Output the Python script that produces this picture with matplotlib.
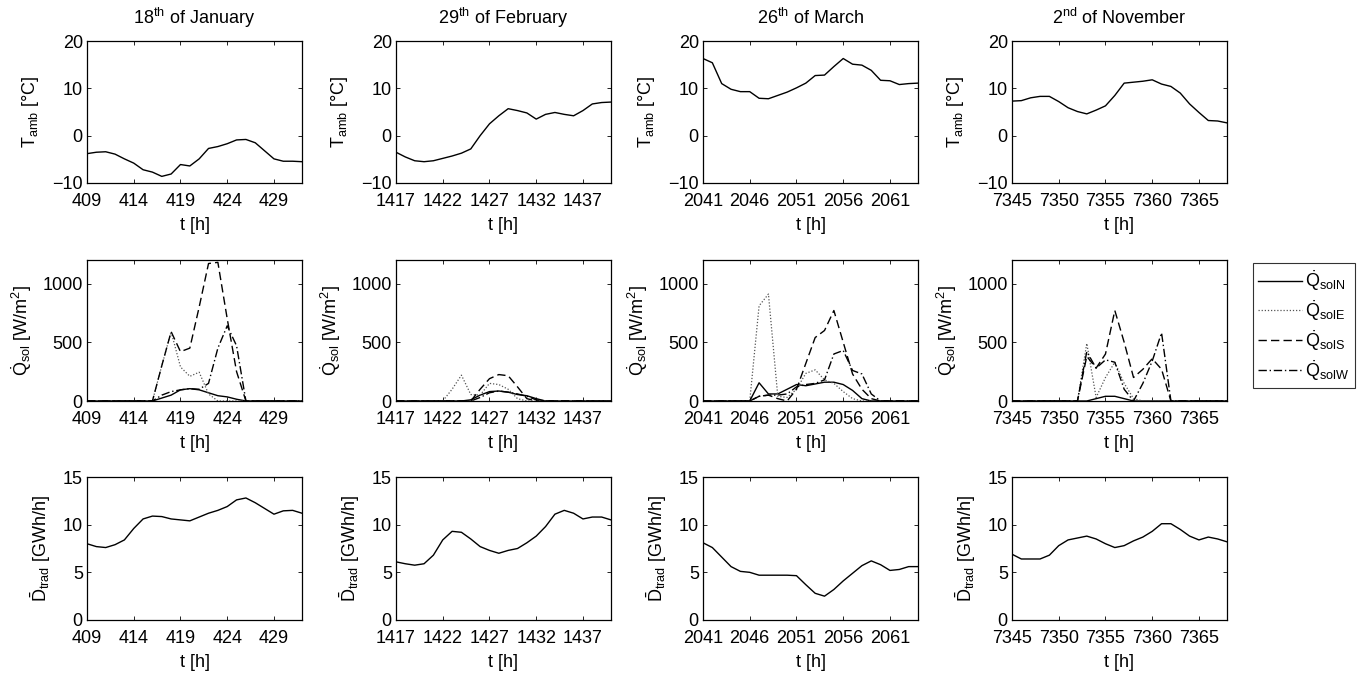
import numpy as np
import matplotlib
matplotlib.use("Agg")
import matplotlib.pyplot as plt

plt.rcParams["font.family"] = ["Liberation Sans", "DejaVu Sans"]
plt.rcParams["mathtext.fontset"] = "custom"
plt.rcParams["mathtext.rm"] = "Liberation Sans"
plt.rcParams["mathtext.it"] = "Liberation Sans:italic"
plt.rcParams["font.size"] = 13

# === DATA ===

titles = [
    "18$^{\\mathrm{th}}$ of January",
    "29$^{\\mathrm{th}}$ of February",
    "26$^{\\mathrm{th}}$ of March",
    "2$^{\\mathrm{nd}}$ of November",
]
start_hours = [409, 1417, 2041, 7345]

# ambient temperature [°C], 24 hourly values per day
t_amb_jan = [-3.8, -3.5, -3.4, -3.9, -4.9, -5.8, -7.2, -7.7, -8.6, -8.1, -6.1, -6.4,
             -4.9, -2.7, -2.3, -1.7, -0.9, -0.8, -1.5, -3.2, -4.9, -5.4, -5.4, -5.5]
t_amb_feb = [-3.5, -4.5, -5.3, -5.5, -5.3, -4.8, -4.3, -3.7, -2.8, 0.0, 2.5, 4.2,
             5.7, 5.3, 4.8, 3.5, 4.5, 4.9, 4.5, 4.2, 5.3, 6.7, 7.0, 7.1]
t_amb_mar = [16.3, 15.4, 11.0, 9.8, 9.3, 9.3, 7.9, 7.8, 8.5, 9.2, 10.1, 11.1,
             12.7, 12.8, 14.6, 16.3, 15.1, 14.9, 13.8, 11.7, 11.6, 10.8, 11.0, 11.1]
t_amb_nov = [7.3, 7.4, 8.0, 8.3, 8.3, 7.2, 5.9, 5.1, 4.6, 5.4, 6.3, 8.5,
             11.1, 11.3, 11.5, 11.8, 10.9, 10.4, 9.0, 6.7, 4.9, 3.2, 3.1, 2.7]

# solar gains [W/m²] per orientation
q_n_jan = [0, 0, 0, 0, 0, 0, 0, 0, 25, 50, 95, 105, 95, 70, 45, 35, 15, 0, 0, 0, 0, 0, 0, 0]
q_e_jan = [0, 0, 0, 0, 0, 0, 0, 0, 300, 590, 290, 210, 245, 60, 0, 0, 0, 0, 0, 0, 0, 0, 0, 0]
q_s_jan = [0, 0, 0, 0, 0, 0, 0, 0, 300, 590, 420, 450, 800, 1170, 1180, 700, 250, 0, 0, 0, 0, 0, 0, 0]
q_w_jan = [0, 0, 0, 0, 0, 0, 0, 0, 50, 80, 95, 105, 100, 150, 450, 640, 470, 0, 0, 0, 0, 0, 0, 0]

q_n_feb = [0, 0, 0, 0, 0, 0, 0, 0, 10, 50, 80, 85, 75, 55, 45, 20, 0, 0, 0, 0, 0, 0, 0, 0]
q_e_feb = [0, 0, 0, 0, 0, 0, 100, 220, 55, 50, 150, 140, 100, 20, 0, 0, 0, 0, 0, 0, 0, 0, 0, 0]
q_s_feb = [0, 0, 0, 0, 0, 0, 0, 0, 0, 100, 190, 225, 215, 120, 20, 0, 0, 0, 0, 0, 0, 0, 0, 0]
q_w_feb = [0, 0, 0, 0, 0, 0, 0, 0, 0, 30, 70, 85, 75, 60, 40, 10, 0, 0, 0, 0, 0, 0, 0, 0]

q_n_mar = [0, 0, 0, 0, 0, 0, 155, 60, 60, 100, 140, 130, 145, 160, 160, 140, 90, 20, 0, 0, 0, 0, 0, 0]
q_e_mar = [0, 0, 0, 0, 0, 0, 810, 910, 40, 30, 100, 235, 265, 180, 150, 80, 20, 0, 0, 0, 0, 0, 0, 0]
q_s_mar = [0, 0, 0, 0, 0, 0, 40, 50, 20, 0, 100, 320, 540, 600, 770, 500, 230, 100, 20, 0, 0, 0, 0, 0]
q_w_mar = [0, 0, 0, 0, 0, 0, 40, 50, 50, 60, 120, 140, 150, 180, 400, 430, 260, 230, 60, 0, 0, 0, 0, 0]

q_n_nov = [0, 0, 0, 0, 0, 0, 0, 0, 0, 20, 40, 40, 20, 0, 0, 0, 0, 0, 0, 0, 0, 0, 0, 0]
q_e_nov = [0, 0, 0, 0, 0, 0, 0, 0, 490, 30, 200, 330, 150, 20, 0, 0, 0, 0, 0, 0, 0, 0, 0, 0]
q_s_nov = [0, 0, 0, 0, 0, 0, 0, 0, 380, 280, 400, 770, 500, 200, 270, 360, 270, 0, 0, 0, 0, 0, 0, 0]
q_w_nov = [0, 0, 0, 0, 0, 0, 0, 0, 420, 280, 350, 330, 100, 0, 150, 340, 580, 0, 0, 0, 0, 0, 0, 0]

# traditional demand [GWh/h]
d_trad_jan = [8.0, 7.7, 7.6, 7.9, 8.4, 9.6, 10.6, 10.9, 10.85, 10.6, 10.5, 10.4,
              10.8, 11.2, 11.5, 11.9, 12.6, 12.8, 12.3, 11.7, 11.1, 11.45, 11.5, 11.2]
d_trad_feb = [6.1, 5.9, 5.75, 5.9, 6.8, 8.4, 9.3, 9.2, 8.5, 7.7, 7.3, 7.0,
              7.3, 7.5, 8.1, 8.8, 9.8, 11.1, 11.5, 11.2, 10.6, 10.8, 10.8, 10.5]
d_trad_mar = [8.1, 7.6, 6.6, 5.6, 5.1, 5.0, 4.7, 4.7, 4.7, 4.7, 4.65, 3.7,
              2.8, 2.5, 3.2, 4.1, 4.9, 5.7, 6.2, 5.8, 5.2, 5.3, 5.6, 5.6]
d_trad_nov = [6.9, 6.4, 6.4, 6.4, 6.8, 7.8, 8.4, 8.6, 8.8, 8.5, 8.0, 7.6,
              7.8, 8.3, 8.7, 9.3, 10.1, 10.1, 9.5, 8.8, 8.4, 8.7, 8.5, 8.2]

t_amb = [t_amb_jan, t_amb_feb, t_amb_mar, t_amb_nov]
q_sol = [
    [q_n_jan, q_e_jan, q_s_jan, q_w_jan],
    [q_n_feb, q_e_feb, q_s_feb, q_w_feb],
    [q_n_mar, q_e_mar, q_s_mar, q_w_mar],
    [q_n_nov, q_e_nov, q_s_nov, q_w_nov],
]
d_trad = [d_trad_jan, d_trad_feb, d_trad_mar, d_trad_nov]

q_labels = [
    "$\\dot{\\mathrm{Q}}_{\\mathrm{solN}}$",
    "$\\dot{\\mathrm{Q}}_{\\mathrm{solE}}$",
    "$\\dot{\\mathrm{Q}}_{\\mathrm{solS}}$",
    "$\\dot{\\mathrm{Q}}_{\\mathrm{solW}}$",
]

# === STYLE ===

q_styles = [
    dict(color="black", linestyle="-", linewidth=1.0),
    dict(color="#555555", linestyle=(0, (1, 1.5)), linewidth=0.9),
    dict(color="black", linestyle=(0, (6, 3)), linewidth=1.0),
    dict(color="black", linestyle=(0, (6, 2, 1, 2)), linewidth=1.0),
]

W = 1362
H = 677
col_left_px = [87, 396, 703, 1012]
ax_width_px = 215
row_top_px = [41, 260, 477]
row_bot_px = [183, 401, 620]

fig = plt.figure(figsize=(W / 100, H / 100), dpi=100)


def make_ax(r, c):
    left = col_left_px[c] / W
    bottom = 1 - row_bot_px[r] / H
    height = (row_bot_px[r] - row_top_px[r]) / H
    ax = fig.add_axes([left, bottom, ax_width_px / W, height])
    ax.tick_params(direction="in", top=True, right=True, length=3, width=0.6,
                   labelsize=13)
    ax.tick_params(axis="x", pad=7)
    ax.tick_params(axis="y", pad=3)
    for sp in ax.spines.values():
        sp.set_linewidth(0.9)
    return ax


legend_handles = None
for c in range(4):
    t = np.arange(start_hours[c], start_hours[c] + 24)
    xticks = np.arange(start_hours[c], start_hours[c] + 24, 5)

    # row 1: ambient temperature
    ax = make_ax(0, c)
    ax.plot(t, t_amb[c], color="black", linewidth=1.0)
    ax.set_xlim(t[0], t[-1])
    ax.set_ylim(-10, 20)
    ax.set_yticks([-10, 0, 10, 20])
    ax.set_xticks(xticks)
    ax.set_xlabel("t [h]", labelpad=5)
    ax.set_ylabel("T$_{\\mathrm{amb}}$ [°C]", labelpad=8)
    ax.set_title(titles[c], fontsize=13, pad=12)

    # row 2: solar gains
    ax = make_ax(1, c)
    lines = []
    for vals, st, lab in zip(q_sol[c], q_styles, q_labels):
        ln, = ax.plot(t, vals, label=lab, **st)
        lines.append(ln)
    legend_handles = lines
    ax.set_xlim(t[0], t[-1])
    ax.set_ylim(0, 1200)
    ax.set_yticks([0, 500, 1000])
    ax.set_xticks(xticks)
    ax.set_xlabel("t [h]", labelpad=5)
    ax.set_ylabel("$\\dot{\\mathrm{Q}}_{\\mathrm{sol}}$ [W/m$^{\\mathrm{2}}$]", labelpad=6)

    # row 3: traditional demand
    ax = make_ax(2, c)
    ax.plot(t, d_trad[c], color="black", linewidth=1.0)
    ax.set_xlim(t[0], t[-1])
    ax.set_ylim(0, 15)
    ax.set_yticks([0, 5, 10, 15])
    ax.set_xticks(xticks)
    ax.set_xlabel("t [h]", labelpad=5)
    ax.set_ylabel("$\\bar{\\mathrm{D}}_{\\mathrm{trad}}$ [GWh/h]", labelpad=7)

leg = fig.legend(handles=legend_handles, labels=q_labels,
                 loc="upper left", bbox_to_anchor=(1253 / W, 1 - 263 / H),
                 frameon=True, fancybox=False, edgecolor="black",
                 fontsize=13, handlelength=2.4, handletextpad=0.2,
                 labelspacing=0.3, borderpad=0.3, borderaxespad=0)
leg.get_frame().set_linewidth(0.8)

fig.savefig("out.png", dpi=100)
